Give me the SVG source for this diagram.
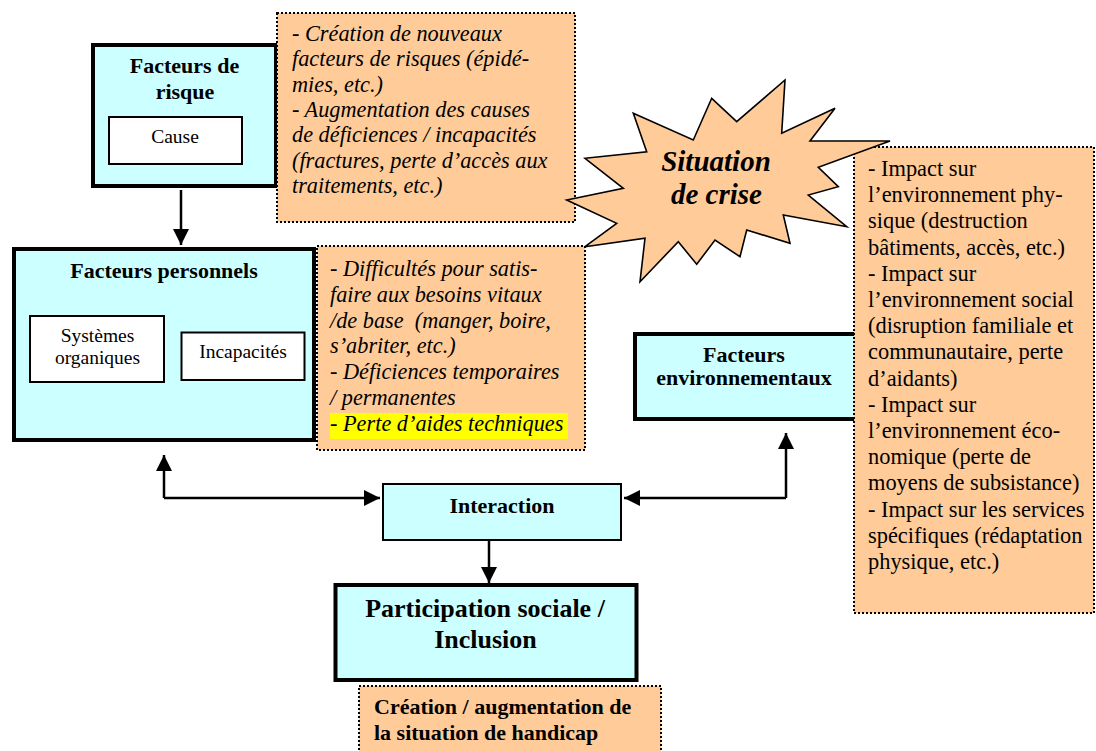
<svg xmlns="http://www.w3.org/2000/svg" width="1096" height="751" viewBox="0 0 1096 751">
<defs>
<style>
.cyan{fill:#CCFFFF;stroke:#000;stroke-width:4}
.thin{fill:#CCFFFF;stroke:#000;stroke-width:2}
.wbox{fill:#FFFFFF;stroke:#000;stroke-width:2}
.note{fill:#FFCC99;stroke:#000;stroke-width:2;stroke-dasharray:2 2}
.t{font-family:"Liberation Serif","Times New Roman",serif;fill:#000}
.b{font-weight:bold;font-size:22px;text-anchor:middle}
.s{font-size:19.5px;text-anchor:middle}
.i{font-style:italic;font-size:22.3px}
.r{font-size:22.4px}
.line{fill:none;stroke:#000;stroke-width:2.5}
</style>
<marker id="ah" markerUnits="userSpaceOnUse" markerWidth="16" markerHeight="16" viewBox="0 0 16 16" refX="16" refY="8" orient="auto">
<path d="M0,0 L16,8 L0,16 Z" fill="#000"/>
</marker>
</defs>
<rect width="1096" height="751" fill="#FFFFFF"/>

<g id="facteurs-risque">
<rect class="cyan" x="93" y="45" width="183" height="141"/>
<text class="t b" x="184.5" y="73">Facteurs de</text>
<text class="t b" x="185" y="99">risque</text>
</g>
<g id="cause">
<rect class="wbox" x="109" y="117" width="133" height="47"/>
<text class="t s" x="175" y="143">Cause</text>
</g>

<g id="facteurs-personnels">
<rect class="cyan" x="14" y="249" width="300" height="191"/>
<text class="t b" x="164" y="278">Facteurs personnels</text>
</g>
<g id="systemes">
<rect class="wbox" x="30" y="316" width="134" height="66"/>
<text class="t s" x="97.5" y="342">Systèmes</text>
<text class="t s" x="97.5" y="364">organiques</text>
</g>
<g id="incapacites">
<rect class="wbox" x="181.5" y="332.5" width="123" height="47.5"/>
<text class="t s" x="243" y="358">Incapacités</text>
</g>

<g id="facteurs-env">
<rect class="cyan" x="635" y="334" width="230" height="85"/>
<text class="t b" x="744" y="362">Facteurs</text>
<text class="t b" x="744" y="385">environnementaux</text>
</g>

<g id="note-risque">
<rect class="note" x="277" y="13" width="298" height="209"/>
<text class="t i" x="292" y="41">- Création de nouveaux</text>
<text class="t i" x="292" y="66.3">facteurs de risques (épidé-</text>
<text class="t i" x="292" y="91.6">mies, etc.)</text>
<text class="t i" x="292" y="116.9">- Augmentation des causes</text>
<text class="t i" x="292" y="142.2">de déficiences / incapacités</text>
<text class="t i" x="292" y="167.5">(fractures, perte d’accès aux</text>
<text class="t i" x="292" y="192.8">traitements, etc.)</text>
</g>

<g id="note-personnels">
<rect class="note" x="317" y="246" width="268" height="204"/>
<rect x="330" y="413" width="238" height="26" fill="#FFFF00"/>
<text class="t i" x="330" y="276">- Difficultés pour satis-</text>
<text class="t i" x="330" y="301.8">faire aux besoins vitaux</text>
<text class="t i" x="330" y="327.6" xml:space="preserve">/de base  (manger, boire,</text>
<text class="t i" x="330" y="353.4">s’abriter, etc.)</text>
<text class="t i" x="330" y="379.2">- Déficiences temporaires</text>
<text class="t i" x="330" y="405">/ permanentes</text>
<text class="t i" x="330" y="430.8">- Perte d’aides techniques</text>
</g>

<g id="note-env">
<rect class="note" x="854" y="147" width="240" height="466"/>
<text class="t r" x="868" y="176">- Impact sur</text>
<text class="t r" x="868" y="202.2">l’environnement phy-</text>
<text class="t r" x="868" y="228.4">sique (destruction</text>
<text class="t r" x="868" y="254.6">bâtiments, accès, etc.)</text>
<text class="t r" x="868" y="280.8">- Impact sur</text>
<text class="t r" x="868" y="307">l’environnement social</text>
<text class="t r" x="868" y="333.2">(disruption familiale et</text>
<text class="t r" x="868" y="359.4">communautaire, perte</text>
<text class="t r" x="868" y="385.6">d’aidants)</text>
<text class="t r" x="868" y="411.8">- Impact sur</text>
<text class="t r" x="868" y="438">l’environnement éco-</text>
<text class="t r" x="868" y="464.2">nomique (perte de</text>
<text class="t r" x="868" y="490.4">moyens de subsistance)</text>
<text class="t r" x="868" y="516.6">- Impact sur les services</text>
<text class="t r" x="868" y="542.8">spécifiques (rédaptation</text>
<text class="t r" x="868" y="569">physique, etc.)</text>
</g>

<g id="situation-crise">
<polygon fill="#FFCC99" stroke="#000" stroke-width="1.6" stroke-linejoin="miter" points="785,80 781.7,133.3 835,108.3 810,141 890,141 818.3,167.3 838.3,186.7 808.3,195 846.7,226.7 783.3,215 790,243.3 746.7,230 740,256.7 715,240 696.7,264.3 678.3,241.7 640,281.7 645,238.3 585,246.7 616.7,223.3 566.7,200 623.3,188.3 585,158.3 646.7,151.7 633.3,113.3 693.3,140 711.7,98.3 736.7,121.7"/>
<text class="t" x="716" y="171" font-size="29" font-weight="bold" font-style="italic" text-anchor="middle">Situation</text>
<text class="t" x="716.5" y="204" font-size="29" font-weight="bold" font-style="italic" text-anchor="middle">de crise</text>
</g>

<g id="interaction">
<rect class="thin" x="383" y="484" width="238" height="56"/>
<text class="t b" x="502" y="513">Interaction</text>
</g>

<g id="participation">
<rect class="cyan" x="335.5" y="585" width="301" height="95"/>
<text class="t" x="485" y="617" font-size="26" font-weight="bold" text-anchor="middle">Participation sociale /</text>
<text class="t" x="485.5" y="648" font-size="26" font-weight="bold" text-anchor="middle">Inclusion</text>
</g>

<g id="note-handicap">
<rect class="note" x="359" y="686" width="302" height="68"/>
<text class="t" x="374" y="714" font-size="22" font-weight="bold">Création / augmentation de</text>
<text class="t" x="374" y="740" font-size="22" font-weight="bold">la situation de handicap</text>
</g>

<g id="connectors">
<line class="line" x1="181" y1="190" x2="181" y2="245" marker-end="url(#ah)"/>
<polyline class="line" points="164,498 164,455" marker-end="url(#ah)"/>
<polyline class="line" points="164,498 380,498" marker-end="url(#ah)"/>
<polyline class="line" points="786,498 786,433" marker-end="url(#ah)"/>
<polyline class="line" points="786,498 624,498" marker-end="url(#ah)"/>
<line class="line" x1="489" y1="541" x2="489" y2="583" marker-end="url(#ah)"/>
</g>
</svg>
